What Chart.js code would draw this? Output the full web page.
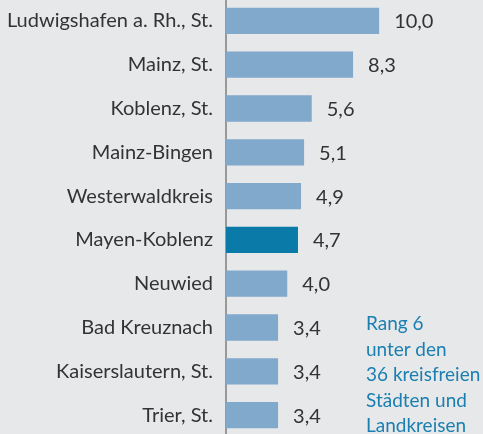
<!DOCTYPE html>
<html>
<head>
<meta charset="utf-8">
<script src="https://cdn.jsdelivr.net/npm/chart.js@4/dist/chart.umd.min.js"></script>
<style>
  html, body { margin:0; padding:0; background:#e6e8ea; overflow:hidden; }
  #wrap { position:relative; width:483px; height:434px; }
  #chart { position:absolute; left:0; top:-1px; }
  #rank {
    position:absolute; left:366px; top:310px;
    font-family:Lato, sans-serif; font-size:19px; line-height:25.5px;
    color:#1a7fb0;
  }
</style>
</head>
<body>
<div id="wrap">
  <canvas id="chart" width="483" height="438"></canvas>
  <div id="rank">Rang 6<br>unter den<br>36 kreisfreien<br>Städten und<br>Landkreisen</div>
</div>
<script>
// data
const regions = [
  'Ludwigshafen a. Rh., St.', 'Mainz, St.', 'Koblenz, St.', 'Mainz-Bingen',
  'Westerwaldkreis', 'Mayen-Koblenz', 'Neuwied', 'Bad Kreuznach',
  'Kaiserslautern, St.', 'Trier, St.'
];
const values = [10.0, 8.3, 5.6, 5.1, 4.9, 4.7, 4.0, 3.4, 3.4, 3.4];
const highlight = 'Mayen-Koblenz';

const FONT = 'Lato, sans-serif';
const TEXT = '#333333';

// value labels right of bars
const valueLabels = {
  id: 'valueLabels',
  afterDatasetsDraw(chart) {
    const ctx = chart.ctx;
    ctx.save();
    ctx.font = `20px ${FONT}`;
    ctx.fillStyle = TEXT;
    ctx.textBaseline = 'middle';
    ctx.textAlign = 'left';
    chart.getDatasetMeta(0).data.forEach((bar, i) => {
      ctx.fillText(values[i].toFixed(1).replace('.', ','), bar.x + 15, bar.y + 1);
    });
    ctx.restore();
  }
};

new Chart(document.getElementById('chart'), {
  type: 'bar',
  data: {
    labels: regions,
    datasets: [{
      data: values,
      backgroundColor: regions.map(r => r === highlight ? '#0a7aa8' : '#80a9cb'),
      borderWidth: 0,
      categoryPercentage: 1,
      barPercentage: 0.6
    }]
  },
  options: {
    indexAxis: 'y',
    responsive: false,
    animation: false,
    layout: { padding: { top: 0, bottom: 0, left: 0, right: 12 } },
    plugins: { legend: { display: false }, tooltip: { enabled: false } },
    scales: {
      x: {
        min: 0, max: 16,
        display: false
      },
      y: {
        grid: { display: false, drawTicks: false },
        border: { display: true, color: '#999999', width: 2 },
        ticks: {
          color: TEXT,
          font: { family: FONT, size: 20 },
          padding: 13
        },
        afterFit(axis) {
          axis.width = 226;
          axis.paddingTop = 0;
          axis.paddingBottom = 0;
        }
      }
    }
  },
  plugins: [valueLabels]
});
</script>
</body>
</html>
